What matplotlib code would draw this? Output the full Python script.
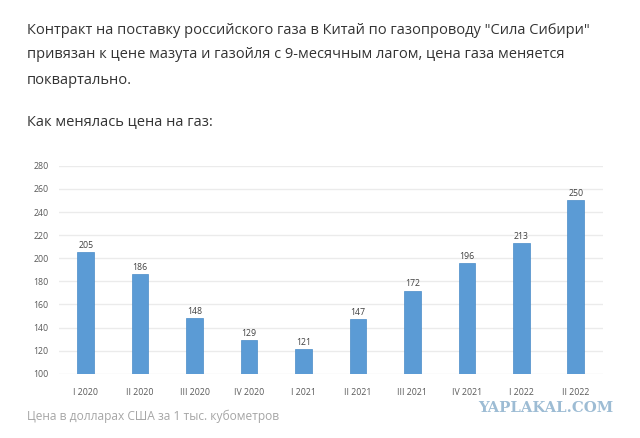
import matplotlib.pyplot as plt

W, H = 640, 438

# Chart data
quarters = ["I 2020", "II 2020", "III 2020", "IV 2020", "I 2021",
            "II 2021", "III 2021", "IV 2021", "I 2022", "II 2022"]
prices = [205, 186, 148, 129, 121, 147, 172, 196, 213, 250]
y_ticks = list(range(100, 281, 20))

intro_lines = [
    'Контракт на поставку российского газа в Китай по газопроводу "Сила Сибири"',
    "привязан к цене мазута и газойля с 9-месячным лагом, цена газа меняется",
    "поквартально.",
]
subtitle = "Как менялась цена на газ:"
source = "Цена в долларах США за 1 тыс. кубометров"
watermark = "YAPLAKAL.COM"

plt.rcParams["font.family"] = ["Open Sans", "DejaVu Sans"]

fig = plt.figure(figsize=(W / 100, H / 100), dpi=100, facecolor="white")
ax = fig.add_axes([58.5 / W, 1 - 373.7 / H, 544.5 / W, 207.9 / H])

ax.bar(range(len(prices)), prices, width=0.305, color="#5b9bd5",
       edgecolor="#4a8cc8", linewidth=0.5, zorder=3)
for i, p in enumerate(prices):
    ax.annotate(str(p), (i, p), xytext=(0, 1.5), textcoords="offset points",
                ha="center", va="bottom", fontsize=6.3, color="#404040")

ax.set_xlim(-0.5, len(prices) - 0.5)
ax.set_ylim(100, 280)
ax.set_yticks(y_ticks)
ax.set_xticks(range(len(quarters)))
ax.set_xticklabels(quarters)
ax.tick_params(axis="both", length=0, labelsize=6.3, labelcolor="#595959")
ax.tick_params(axis="x", pad=10)
ax.tick_params(axis="y", pad=7)
ax.grid(axis="y", color="#ebebeb", linewidth=1, zorder=0)
for s in ax.spines.values():
    s.set_visible(False)

# Text block above the chart
for text, y in zip(intro_lines, [30, 55, 80]):
    fig.text(27 / W, 1 - y / H, text, fontsize=10.5, color="#333333", va="center")
fig.text(27 / W, 1 - 122 / H, subtitle, fontsize=10.5, color="#333333", va="center")
fig.text(27 / W, 1 - 416 / H, source, fontsize=8.65, color="#a6a6a6", va="center")
fig.text(613 / W, 1 - 408 / H, watermark, fontsize=10.7, color="#9dbcd4",
         family="DejaVu Serif", weight="bold", ha="right", va="center")

fig.savefig("out.png", dpi=100)
